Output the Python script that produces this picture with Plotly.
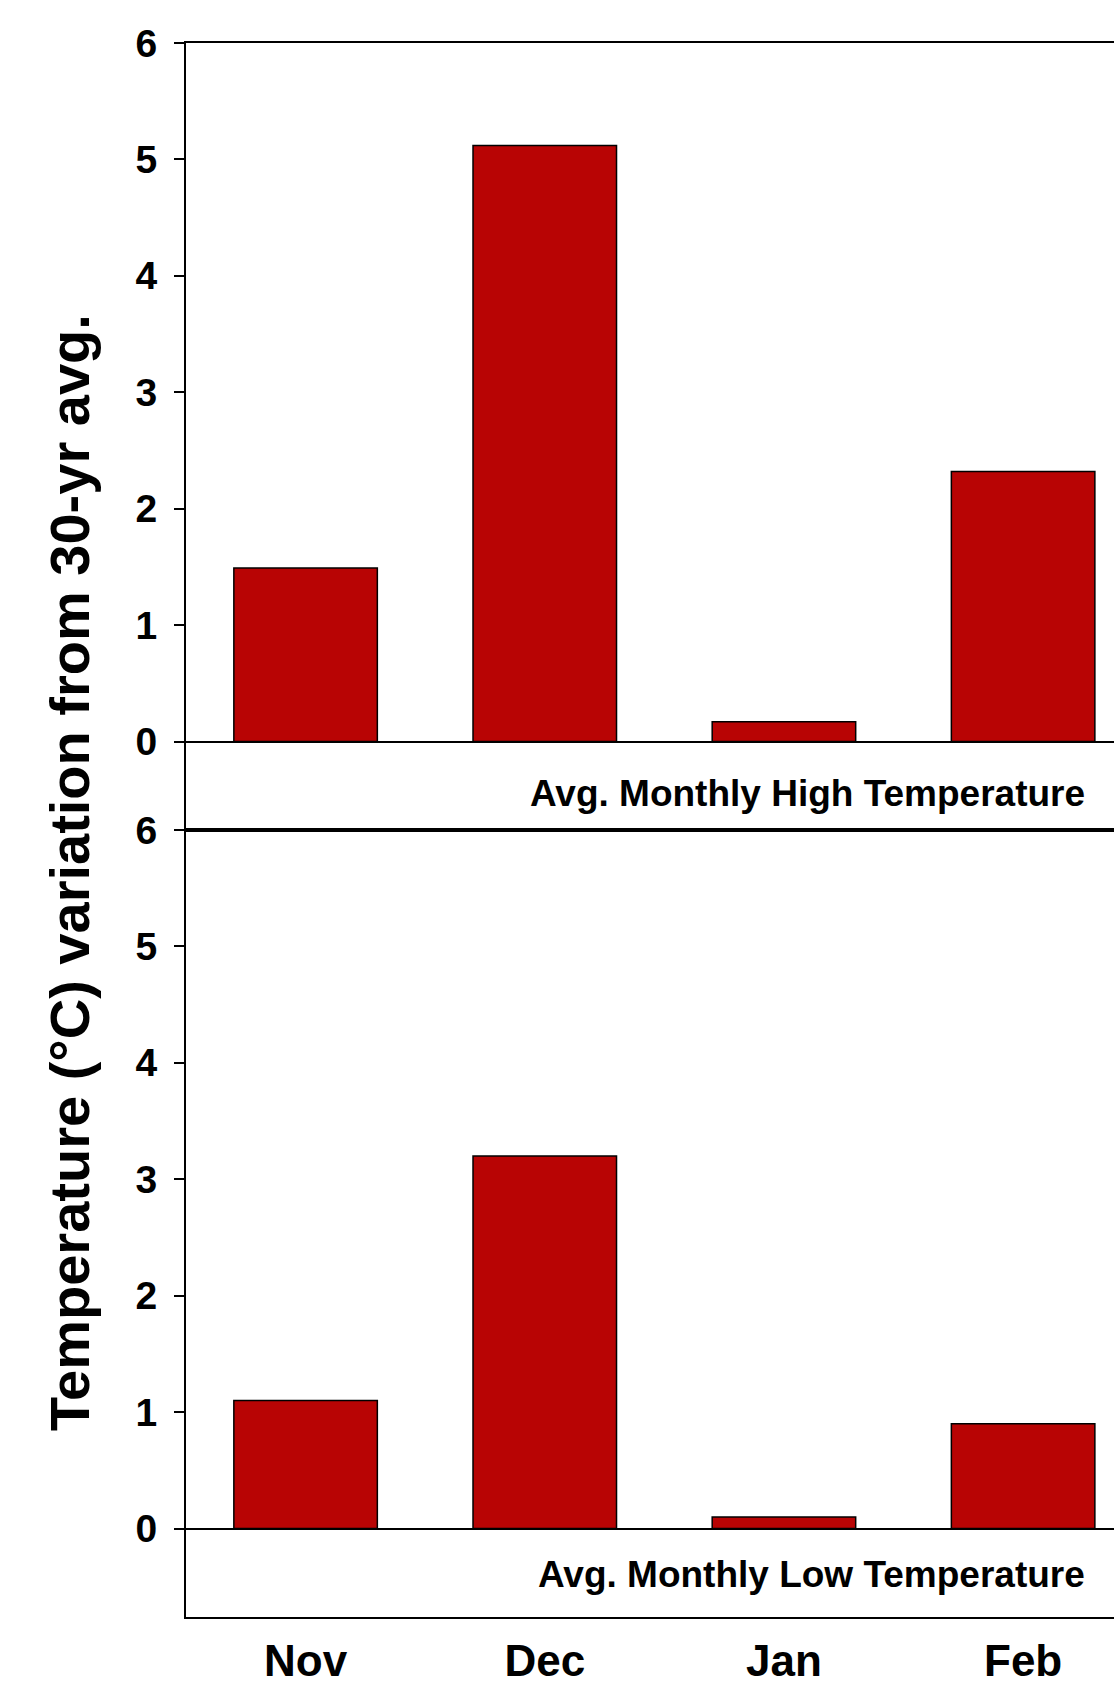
import plotly.graph_objects as go
from plotly.subplots import make_subplots

months = ["Nov", "Dec", "Jan", "Feb"]
high_dev = [1.49, 5.12, 0.17, 2.32]
low_dev = [1.10, 3.20, 0.10, 0.90]
y_ticks = [0, 1, 2, 3, 4, 5, 6]
panel_labels = ["Avg. Monthly High Temperature", "Avg. Monthly Low Temperature"]
y_title = "Temperature (°C) variation from 30-yr avg."

BAR = "#B80404"
FONT = "Liberation Sans, Arial, sans-serif"

fig = make_subplots(rows=2, cols=1, shared_xaxes=True, vertical_spacing=0)

for i, vals in enumerate([high_dev, low_dev]):
    fig.add_trace(go.Bar(x=months, y=vals, width=0.6, marker=dict(color=BAR, line=dict(color="black", width=1.5)),
                         showlegend=False), row=i + 1, col=1)

common_y = dict(range=[-0.76, 6], tickvals=y_ticks, ticks="outside", ticklen=10, tickwidth=2, tickcolor="black",
                showline=True, linecolor="black", linewidth=2, showgrid=False,
                zeroline=True, zerolinecolor="black", zerolinewidth=2,
                tickfont=dict(family=FONT, size=39, color="black", weight="bold"),
                ticklabelstandoff=9)
fig.update_yaxes(**common_y)
fig.update_xaxes(range=[-0.5, 3.38], showline=True, linecolor="black", linewidth=2, mirror=True,
                 showgrid=False, ticks="", zeroline=False)
fig.update_xaxes(showticklabels=False, row=1, col=1)
fig.update_xaxes(showticklabels=True, tickfont=dict(family=FONT, size=44, color="black", weight="bold"),
                 ticklabelstandoff=4, row=2, col=1)

fig.update_layout(
    width=1114, height=1689,
    margin=dict(l=186, r=0, t=43, b=72, autoexpand=False),
    plot_bgcolor="white", paper_bgcolor="white", bargap=0.4,
)
fig.layout.yaxis.domain = [0.5, 1]
fig.layout.yaxis2.domain = [0, 0.5]

fig.add_annotation(text=panel_labels[0], xref="paper", yref="paper", x=0.971, y=0.5235,
                   xanchor="right", yanchor="middle", showarrow=False,
                   font=dict(family=FONT, size=37, color="black", weight="bold"))
fig.add_annotation(text=panel_labels[1], xref="paper", yref="paper", x=0.971, y=0.0267,
                   xanchor="right", yanchor="middle", showarrow=False,
                   font=dict(family=FONT, size=37, color="black", weight="bold"))
fig.add_annotation(text=y_title, xref="paper", yref="paper", x=-0.125, y=0.4727,
                   xanchor="center", yanchor="middle", textangle=-90, showarrow=False,
                   font=dict(family=FONT, size=56, color="black", weight="bold"))

fig.write_html("out.html", config={"displayModeBar": False},
               post_script="document.body.style.margin='0';document.body.style.overflow='hidden';")
